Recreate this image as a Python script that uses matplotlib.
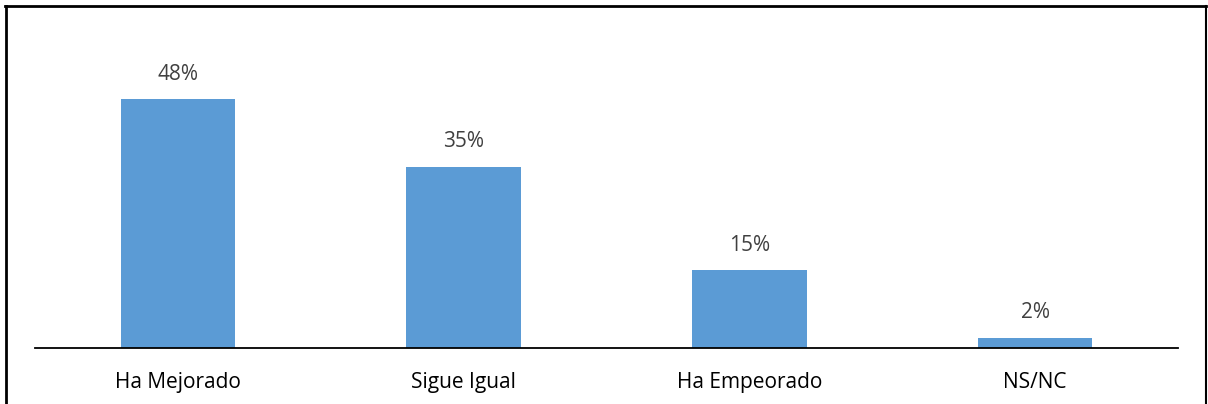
import matplotlib
matplotlib.use("Agg")
import matplotlib.pyplot as plt
from matplotlib.lines import Line2D

categories = ["Ha Mejorado", "Sigue Igual", "Ha Empeorado", "NS/NC"]
values = [48, 35, 15, 2]
value_labels = ["48%", "35%", "15%", "2%"]

W, H = 1208, 404
fig = plt.figure(figsize=(W / 100, H / 100), dpi=100)
plt.rcParams['font.family'] = ['Open Sans', 'DejaVu Sans']

ax_left, ax_right = 35 / W, 1178 / W
ax_bottom, ax_top = 1 - 348 / H, 1 - 37 / H
ax = fig.add_axes([ax_left, ax_bottom, ax_right - ax_left, ax_top - ax_bottom])

x = list(range(len(categories)))
ax.bar(x, values, width=0.4, color="#5B9BD5", zorder=2)
ax.set_xlim(-0.5, len(categories) - 0.5)
ax.set_ylim(0, 60)

for xi, v, lab in zip(x, values, value_labels):
    ax.annotate(lab, (xi, v), xytext=(0, 18), textcoords="offset points",
                ha="center", va="center", fontsize=15, color="#404040")

ax.set_xticks(x)
ax.set_xticklabels(categories, fontsize=15, color="#000000")
ax.tick_params(axis="x", length=0, pad=17.5)
ax.set_yticks([])
for s in ["top", "right", "left"]:
    ax.spines[s].set_visible(False)
ax.spines["bottom"].set_linewidth(1.3)
ax.spines["bottom"].set_color("#000000")

# outer chart border (left, top, right)
def fx(px):
    return px / W
def fy(py):
    return 1 - py / H
fig.add_artist(Line2D([fx(6), fx(6)], [fy(6), fy(H + 5)], color="black", lw=2, transform=fig.transFigure))
fig.add_artist(Line2D([fx(5), fx(1206)], [fy(6), fy(6)], color="black", lw=2, transform=fig.transFigure))
fig.add_artist(Line2D([fx(1205.5), fx(1205.5)], [fy(6), fy(H + 5)], color="black", lw=1.5, transform=fig.transFigure))

fig.savefig("out.png", dpi=100)
